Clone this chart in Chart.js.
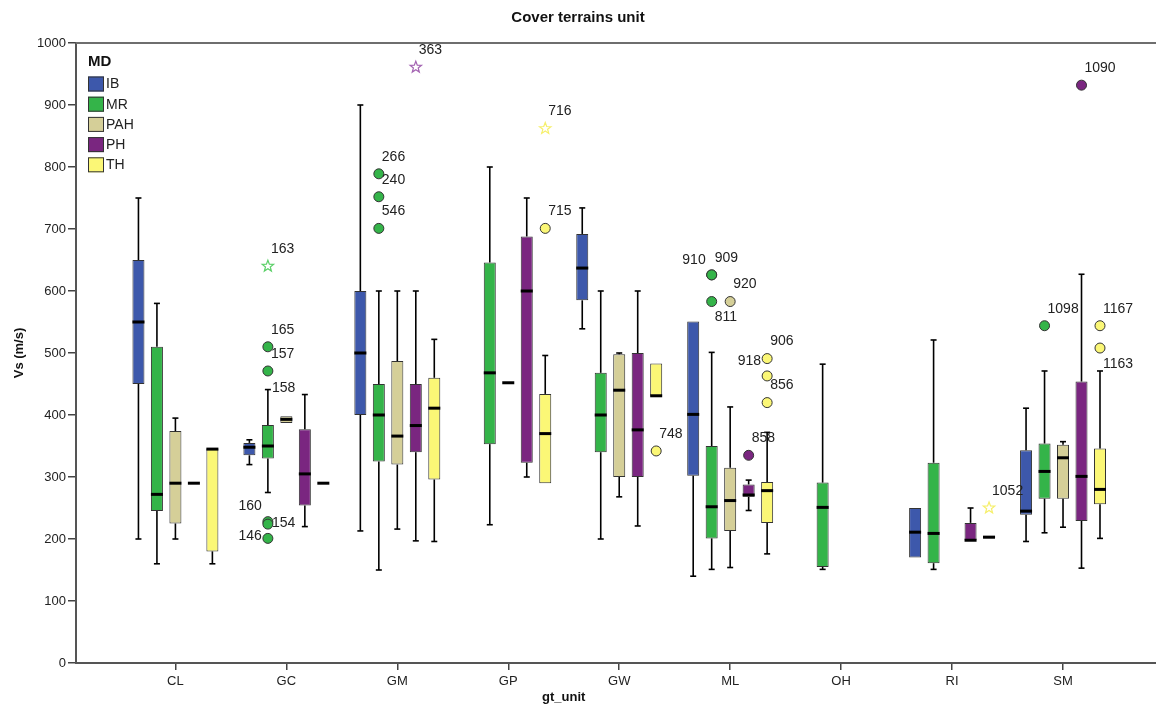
<!DOCTYPE html>
<html>
<head>
<meta charset="utf-8">
<script src="https://cdn.jsdelivr.net/npm/chart.js@4.4.1/dist/chart.umd.min.js"></script>
<style>
    html, body { margin: 0; padding: 0; background: #fff; }
</style>
</head>
<body>
<canvas id="chart" width="1156" height="709"></canvas>
<script>
"use strict";

var categories = ['CL', 'GC', 'GM', 'GP', 'GW', 'ML', 'OH', 'RI', 'SM'];
var groups = ['IB', 'MR', 'PAH', 'PH', 'TH'];
var yTicks = [0, 100, 200, 300, 400, 500, 600, 700, 800, 900, 1000];

// five-number summaries per category: [min, q1, median, q3, max]
var boxIB = [
    [200, 450, 550, 650, 750], [320, 335, 348, 355, 360], [213, 400, 500, 600, 900],
    null, [539, 585, 637, 692, 734], [140, 302, 401, 551, 551],
    null, [170, 170, 211, 250, 250], [196, 239, 245, 343, 411]
];
var boxMR = [
    [160, 245, 272, 510, 580], [275, 330, 350, 384, 441], [150, 325, 400, 450, 600],
    [223, 353, 468, 646, 800], [200, 340, 400, 468, 600], [151, 201, 252, 350, 501],
    [151, 155, 251, 291, 482], [151, 161, 209, 323, 521], [210, 265, 309, 354, 471]
];
var boxPAH = [
    [200, 225, 290, 374, 395], [387, 387, 393, 398, 398], [216, 320, 366, 487, 600],
    [452, 452, 452, 452, 452], [268, 300, 440, 498, 500], [154, 213, 262, 315, 413],
    null, null, [219, 265, 331, 352, 357]
];
var boxPH = [
    [290, 290, 290, 290, 290], [220, 254, 305, 377, 433], [197, 340, 383, 450, 600],
    [300, 323, 600, 688, 750], [221, 300, 376, 500, 600], [246, 268, 271, 288, 295],
    null, [198, 198, 198, 226, 250], [153, 229, 301, 454, 627]
];
var boxTH = [
    [160, 180, 345, 346, 346], [290, 290, 290, 290, 290], [196, 296, 411, 460, 522],
    [290, 290, 370, 434, 496], [431, 431, 431, 483, 483], [176, 226, 278, 292, 372],
    null, [201, 201, 203, 205, 205], [201, 256, 280, 346, 471]
];

// outliers (circle) and extremes (star)
var outCat   = ['GC', 'GC', 'GC', 'GC', 'GC', 'GC', 'GC', 'GM', 'GM', 'GM', 'GM', 'GP', 'GP', 'GW',
                'ML', 'ML', 'ML', 'ML', 'ML', 'ML', 'ML', 'ML', 'RI', 'SM', 'SM', 'SM', 'SM'];
var outGroup = ['MR', 'MR', 'MR', 'MR', 'MR', 'MR', 'MR', 'MR', 'MR', 'MR', 'PH', 'TH', 'TH', 'TH',
                'MR', 'MR', 'MR', 'PAH', 'PH', 'TH', 'TH', 'TH', 'TH', 'MR', 'PH', 'TH', 'TH'];
var outValue = [640, 510, 471, 441, 228, 224, 201, 789, 752, 701, 961, 862, 701, 342,
                626, 626, 583, 583, 335, 491, 463, 420, 250, 544, 932, 544, 508];
var outLabel = ['163', '165', '157', '158', '160', '154', '146', '266', '240', '546', '363', '716', '715', '748',
                '910', '909', '811', '920', '858', '906', '918', '856', '1052', '1098', '1090', '1167', '1163'];
var outShape = ['star', 'circle', 'circle', 'none', 'circle', 'circle', 'circle', 'circle', 'circle', 'circle',
                'star', 'star', 'circle', 'circle', 'circle', 'circle', 'circle', 'circle', 'circle', 'circle',
                'circle', 'circle', 'star', 'circle', 'circle', 'circle', 'circle'];

// where each case number sits around its marker
var labelPos = ['ur', 'ur', 'ur', 'r', 'ul', 'r', 'l', 'ur', 'ur', 'ur', 'ur', 'ur', 'ur', 'ur',
                'ul', 'ur', 'lr', 'ur', 'ur', 'ur', 'ul', 'ur', 'ur', 'ur', 'ur', 'ur', 'lr'];

var boxes = [boxIB, boxMR, boxPAH, boxPH, boxTH];
var fillColors = ['#3d58ab', '#34b449', '#d5cf98', '#7a2680', '#fbf776'];
var starColors = ['#5a78d0', '#5cd068', '#d5cf98', '#a464b2', '#f6ef6a'];
var FONT = "'Liberation Sans', Arial, sans-serif";

function toPoints(box) {
    var pts = [];
    box.forEach(function (b, i) {
        if (b) {
            pts.push({x: i, y: [b[1], b[3]], box: b});
        }
    });
    return pts;
}

function line(ctx, x1, y1, x2, y2) {
    ctx.beginPath();
    ctx.moveTo(x1, y1);
    ctx.lineTo(x2, y2);
    ctx.stroke();
}

function star(ctx, x, y, r) {
    ctx.beginPath();
    for (var i = 0; i < 10; i++) {
        var rad = i % 2 === 0 ? r : r * 0.42;
        var a = -Math.PI / 2 + i * Math.PI / 5;
        var px = x + rad * Math.cos(a), py = y + rad * Math.sin(a);
        if (i === 0) ctx.moveTo(px, py); else ctx.lineTo(px, py);
    }
    ctx.closePath();
    ctx.stroke();
}

var boxPlotPlugin = {
    id: 'boxPlot',
    afterDatasetsDraw: function (chart) {
        var ctx = chart.ctx;
        var yScale = chart.scales.y;
        ctx.save();
        ctx.strokeStyle = '#000';
        chart.data.datasets.forEach(function (ds, d) {
            var meta = chart.getDatasetMeta(d);
            ds.data.forEach(function (pt, k) {
                var el = meta.data[k];
                var b = pt.box;
                var x = el.x, half = el.width / 2;
                ctx.lineWidth = 1.6;
                if (b[0] < b[1]) {
                    line(ctx, x, yScale.getPixelForValue(b[1]), x, yScale.getPixelForValue(b[0]));
                    line(ctx, x - 3, yScale.getPixelForValue(b[0]), x + 3, yScale.getPixelForValue(b[0]));
                }
                if (b[4] > b[3]) {
                    line(ctx, x, yScale.getPixelForValue(b[3]), x, yScale.getPixelForValue(b[4]));
                    line(ctx, x - 3, yScale.getPixelForValue(b[4]), x + 3, yScale.getPixelForValue(b[4]));
                }
                ctx.lineWidth = 3;
                var ym = yScale.getPixelForValue(b[2]);
                line(ctx, x - half, ym, x + half, ym);
            });
        });

        // outliers with their case numbers
        ctx.font = '14px ' + FONT;
        ctx.textBaseline = 'middle';
        outValue.forEach(function (v, i) {
            var g = groups.indexOf(outGroup[i]);
            var c = categories.indexOf(outCat[i]);
            var ds = chart.data.datasets[g];
            var k = ds.data.findIndex(function (p) { return p.x === c; });
            var x = chart.getDatasetMeta(g).data[k].x;
            var y = yScale.getPixelForValue(v);
            if (outShape[i] === 'circle') {
                ctx.beginPath();
                ctx.arc(x, y, 5, 0, Math.PI * 2);
                ctx.fillStyle = fillColors[g];
                ctx.fill();
                ctx.lineWidth = 1;
                ctx.strokeStyle = '#333';
                ctx.stroke();
            } else if (outShape[i] === 'star') {
                ctx.lineWidth = 1.2;
                ctx.strokeStyle = starColors[g];
                star(ctx, x, y, 6);
            }
            ctx.fillStyle = '#222';
            var pos = labelPos[i];
            if (pos === 'ur') { ctx.textAlign = 'left'; ctx.fillText(outLabel[i], x + 3, y - 17); }
            else if (pos === 'ul') { ctx.textAlign = 'right'; ctx.fillText(outLabel[i], x - 6, y - 15); }
            else if (pos === 'lr') { ctx.textAlign = 'left'; ctx.fillText(outLabel[i], x + 3, y + 16); }
            else if (pos === 'r') { ctx.textAlign = 'left'; ctx.fillText(outLabel[i], x + 4, y - 1); }
            else { ctx.textAlign = 'right'; ctx.fillText(outLabel[i], x - 6, y - 2); }
        });
        ctx.restore();
    },
    afterDraw: function (chart) {
        var ctx = chart.ctx;
        var area = chart.chartArea;
        ctx.save();
        // top frame line
        ctx.strokeStyle = '#6e6e6e';
        ctx.lineWidth = 2;
        line(ctx, area.left, area.top, area.right, area.top);

        // legend inside plot
        var lx = area.left + 12;
        ctx.fillStyle = '#111';
        ctx.textAlign = 'left';
        ctx.textBaseline = 'middle';
        ctx.font = 'bold 15px ' + FONT;
        ctx.fillText('MD', lx, 62);
        ctx.font = '14px ' + FONT;
        groups.forEach(function (g, i) {
            var cy = 84 + i * 20.2;
            ctx.fillStyle = fillColors[i];
            ctx.fillRect(lx, cy - 7.5, 16, 15);
            ctx.strokeStyle = '#333';
            ctx.lineWidth = 1;
            ctx.strokeRect(lx + 0.5, cy - 7, 15, 14);
            ctx.fillStyle = '#222';
            ctx.fillText(g, lx + 18, cy + 0.5);
        });

        // x axis title
        ctx.font = 'bold 13px ' + FONT;
        ctx.textAlign = 'center';
        ctx.fillStyle = '#111';
        ctx.fillText('gt_unit', chart.scales.x.getPixelForValue(3.5), 697);
        ctx.restore();
    }
};

var datasets = groups.map(function (g, i) {
    return {
        label: g,
        data: toPoints(boxes[i]),
        backgroundColor: fillColors[i],
        borderColor: '#333',
        borderWidth: 1,
        borderSkipped: false,
        categoryPercentage: 0.833,
        barPercentage: 0.65
    };
});

var chart = new Chart(document.getElementById('chart'), {
    type: 'bar',
    data: {datasets: datasets},
    options: {
        responsive: false,
        animation: false,
        layout: {padding: 0},
        plugins: {
            legend: {display: false},
            tooltip: {enabled: false},
            title: {
                display: true,
                text: 'Cover terrains unit',
                color: '#111',
                font: {family: FONT, size: 15, weight: 'bold'},
                padding: {top: 9, bottom: 16}
            }
        },
        scales: {
            x: {
                type: 'linear',
                min: -0.896,
                max: 8.838,
                offset: false,
                afterBuildTicks: function (scale) {
                    scale.ticks = categories.map(function (c, i) { return {value: i}; });
                },
                afterFit: function (scale) { scale.height = 46; },
                ticks: {
                    callback: function (v) { return categories[v]; },
                    color: '#222',
                    font: {family: FONT, size: 13},
                    padding: 4,
                    maxRotation: 0
                },
                grid: {drawOnChartArea: false, offset: false, tickLength: 7, color: '#444', lineWidth: 1.5},
                border: {color: '#555', width: 2}
            },
            y: {
                min: 0,
                max: 1000,
                afterBuildTicks: function (scale) {
                    scale.ticks = yTicks.map(function (v) { return {value: v}; });
                },
                afterFit: function (scale) { scale.width = 76; },
                ticks: {
                    callback: function (v) { return String(v); },
                    color: '#222',
                    font: {family: FONT, size: 13},
                    padding: 2
                },
                title: {
                    display: true,
                    text: 'Vs (m/s)',
                    color: '#111',
                    font: {family: FONT, size: 13, weight: 'bold'},
                    padding: {top: 12, bottom: 0}
                },
                grid: {drawOnChartArea: false, tickLength: 8, color: '#444', lineWidth: 1.5},
                border: {color: '#555', width: 2}
            }
        }
    },
    plugins: [boxPlotPlugin]
});
</script>
</body>
</html>
